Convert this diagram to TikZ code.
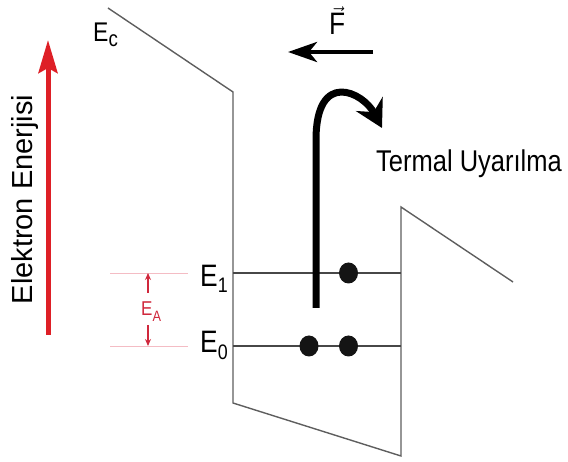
\documentclass[tikz,border=0pt]{standalone}
\usepackage{fontspec}
\setmainfont{Liberation Sans}
\newfontfamily\narrowfont[FakeStretch=0.85]{Liberation Sans}
\usetikzlibrary{arrows.meta,shapes.geometric}
\definecolor{BandGray}{HTML}{5E5E5E}
\definecolor{AxisRed}{HTML}{DE1F26}
\definecolor{GapRed}{HTML}{D0283C}
\definecolor{GapPink}{HTML}{F4BCC4}
% lowered subscript in the label font
\newcommand{\lvlsub}[3]{\raisebox{-#1}{\fontsize{#2}{#2}\selectfont\narrowfont #3}}

\begin{document}
\begin{tikzpicture}[x=1pt,y=-1pt,
    band/.style={BandGray,line width=1.4pt,line join=miter},
    level/.style={black!72,line width=1.2pt},
    electron/.style={ellipse,fill=black!92,inner sep=0pt,minimum width=19pt,minimum height=21pt},
    lbl/.style={inner sep=0pt,font=\fontsize{31}{36}\selectfont\narrowfont},
    axis/.style={AxisRed,line width=5pt,-{Stealth[length=33pt,width=19pt,inset=5pt]}},
    gapline/.style={GapPink,line width=0.7pt},
    gaparrow/.style={GapRed,line width=1.2pt,-{Stealth[length=7pt,width=6pt]}},
    force/.style={black,line width=4.5pt,-{Stealth[length=29pt,width=20pt,inset=8pt]}},
    excite/.style={black,line width=7pt,-{Stealth[length=27pt,width=30pt,inset=9pt]}}]
  \useasboundingbox (0,0) rectangle (568,462);

  % conduction band edge
  \coordinate (cb1) at (108,8);
  \coordinate (cb2) at (233,92);
  \coordinate (cb3) at (233,403);
  \coordinate (cb4) at (401,456);
  \coordinate (cb5) at (401,207);
  \coordinate (cb6) at (513,282);
  \draw[band] (cb1) -- (cb2) -- (cb3) -- (cb4) -- (cb5) -- (cb6);

  % energy levels in the well
  \coordinate (l1w) at (233,273);
  \coordinate (l1e) at (401,273);
  \coordinate (l0w) at (233,346);
  \coordinate (l0e) at (401,346);
  \draw[level] (l1w) -- (l1e);
  \draw[level] (l0w) -- (l0e);

  % labels
  \node[lbl,anchor=base west,font=\fontsize{27}{30}\selectfont\narrowfont] (Ec) at (93,42) {E\lvlsub{5pt}{22}{c}};
  \node[lbl,anchor=base west] (E1) at (200,287) {E\lvlsub{6pt}{21}{1}};
  \node[lbl,anchor=base west] (E0) at (200,353) {E\lvlsub{7pt}{21}{0}};
  \node[lbl,anchor=base west,font=\fontsize{30}{36}\selectfont\narrowfont] (therm) at (376,172) {Termal Uyarılma};
  \node[lbl,anchor=base west] (Flbl) at (329,35) {$\vec{\mbox{F}}$};
  \node[inner sep=0pt,rotate=90,anchor=base,font=\fontsize{29}{34}\selectfont] (ylbl) at (32,199.5) {Elektron Enerjisi};

  % energy axis
  \coordinate (axbot) at (48,335);
  \coordinate (axtop) at (48,40);
  \draw[axis] (axbot) -- (axtop);

  % activation energy
  \coordinate (g1w) at (110,273);
  \coordinate (g1e) at (188,273);
  \coordinate (g0w) at (110,346);
  \coordinate (g0e) at (188,346);
  \draw[gapline] (g1w) -- (g1e);
  \draw[gapline] (g0w) -- (g0e);
  \node[inner sep=0pt,anchor=base west,GapRed,font=\fontsize{20}{23}\selectfont\narrowfont] (EA) at (141,316) {E\lvlsub{6pt}{15}{A}};
  \coordinate (ga1) at (148,293);
  \coordinate (ga1t) at (148,273);
  \coordinate (ga0) at (148,325);
  \coordinate (ga0t) at (148,346);
  \draw[gaparrow] (ga1) -- (ga1t);
  \draw[gaparrow] (ga0) -- (ga0t);

  % field
  \coordinate (fstart) at (373,52);
  \coordinate (fend) at (288,52);
  \draw[force] (fstart) -- (fend);

  % thermal excitation
  \coordinate (ex0) at (316,308);
  \coordinate (ex1) at (316,140);
  \coordinate (ex2) at (382,128);
  \draw[excite] (ex0) -- (ex1) .. controls (316,69) and (363,92) .. (ex2);

  % electrons
  \node[electron] (e1) at (348.5,273) {};
  \node[electron] (e0a) at (309,346) {};
  \node[electron] (e0b) at (348.5,346) {};
\end{tikzpicture}
\end{document}
